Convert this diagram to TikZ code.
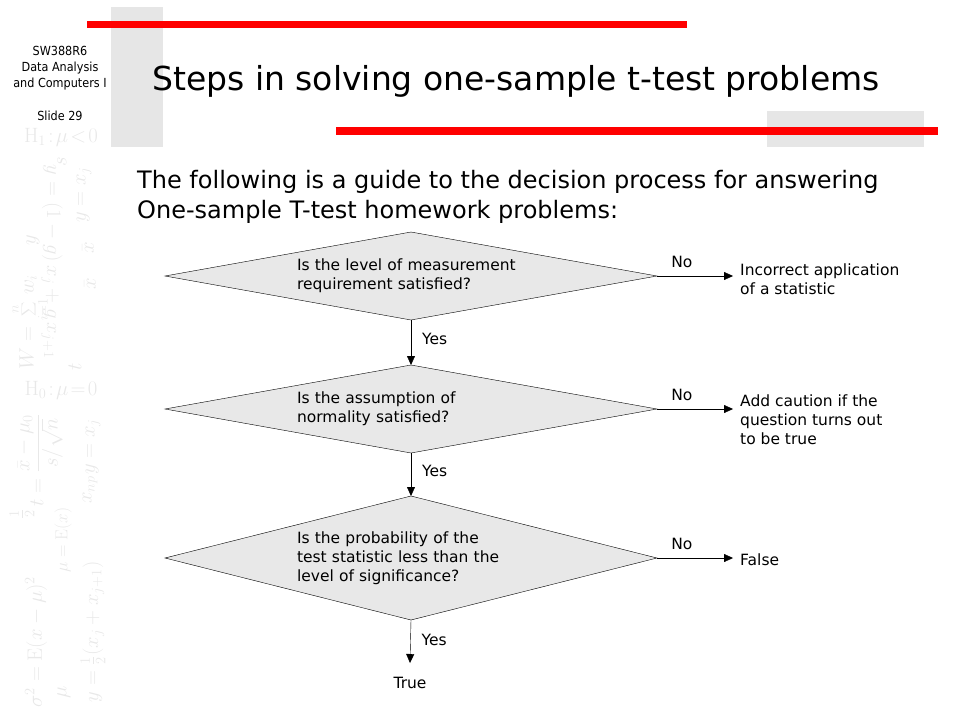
\documentclass[tikz,border=0pt]{standalone}
\usepackage[no-math]{fontspec}
\setmainfont{DejaVu Sans}
\newfontfamily\titlefont{DejaVu Sans Condensed}
\usetikzlibrary{shapes.geometric}
\usetikzlibrary{positioning}
\usetikzlibrary{arrows.meta}
\definecolor{barred}{RGB}{255,0,0}
\definecolor{panelgray}{RGB}{230,230,230}
\definecolor{boxgray}{RGB}{232,232,232}
\tikzset{x=1pt, y=-1pt,
decision/.style={ % Sets the properties for each question
diamond, draw, thin,
fill=boxgray,
aspect=4.5, inner sep=0pt, outer sep=0pt,
minimum width=492pt,
text width=228pt, align=left,
font=\fontsize{15.5}{19}\selectfont},
result/.style={ % Text at the end of a No arrow
anchor=west, inner sep=0pt, align=left,
font=\fontsize{15.5}{19}\selectfont},
answer/.style={inner sep=0pt, font=\fontsize{15.5}{17}\selectfont},
flow/.style={ % Sets the properties for each arrow
draw, thin,
-{Triangle[length=9pt,width=8pt]}},
noarrow/.style={flow, shorten >=7pt},
ghost/.style={text=black!9, inner sep=0pt, font=\fontsize{20}{20}\selectfont}}

\begin{document}
\begin{tikzpicture}
\useasboundingbox (0,0) rectangle (960,720);
% slide decoration
\fill[panelgray] (111,7) rectangle (163,147);
\fill[panelgray] (767,111) rectangle (924,147);
\fill[barred] (87,21) rectangle (687,28);
\fill[barred] (336,127) rectangle (938,135);
% faint formulas on the left
\node[ghost] (h1) at (61,137) {$\mathrm{H}_1\!:\!\mu\!<\!0$};
\node[ghost] (h0) at (61,390) {$\mathrm{H}_0\!:\!\mu\!=\!0$};
\node[ghost, rotate=-90] (interp) at (52,262) {$y=(1-g)\,x_j+g\,x_{j+1}$};
\node[ghost, rotate=90] (wsum) at (30,322) {$\displaystyle W=\sum_{i=1}^{n} w_i$};
\node[ghost, rotate=90] (yx) at (84,195) {$y=x_j$};
\node[ghost, rotate=90] (s) at (62,162) {$s$};
\node[ghost, rotate=90] (yy) at (33,240) {$y$};
\node[ghost, rotate=90] (xbar) at (88,248) {$\bar{x}$};
\node[ghost, rotate=90] (xbarb) at (90,284) {$\bar{x}$};
\node[ghost, rotate=90] (tt) at (75,367) {$t$};
\node[ghost, rotate=90] (tstat) at (40,460) {$\displaystyle t=\frac{\bar{x}-\mu_0}{s/\sqrt{n}}$};
\node[ghost, rotate=90] (yxb) at (93,447) {$y=x_j$};
\node[ghost, rotate=90] (xnp) at (90,490) {$x_{np}$};
\node[ghost, rotate=90] (half) at (22,514) {$\frac{1}{2}$};
\node[ghost, rotate=90, font=\fontsize{17}{17}\selectfont] (mean) at (63,540) {$\mu=\mathrm{E}(x)$};
\node[ghost, rotate=90] (var) at (36,642) {$\sigma^2=\mathrm{E}(x-\mu)^2$};
\node[ghost, rotate=90] (median) at (93,632) {$y=\frac{1}{2}(x_j+x_{j+1})$};
\node[ghost, rotate=90] (mu) at (64,692) {$\mu$};
% header
\node[anchor=north, inner sep=0pt, align=center,
  font=\titlefont\fontsize{12.5}{16}\selectfont] (course) at (60,46)
  {SW388R6\\Data Analysis\\and Computers I\\[17pt]Slide 29};
\node[anchor=base, inner sep=0pt, font=\fontsize{33}{33}\selectfont]
  (title) at (516,90) {Steps in solving one-sample t-test problems};
\node[anchor=north west, inner sep=0pt, align=left,
  font=\fontsize{24}{30}\selectfont] (intro) at (137,170)
  {The following is a guide to the decision process for answering\\
   One-sample T-test homework problems:};
% decisions
\node[decision, minimum height=88pt] (level) at (411,276)
  {Is the level of measurement\\requirement satisfied?};
\node[decision, minimum height=88pt] (normal) at (411,409)
  {Is the assumption of\\normality satisfied?};
\node[decision, minimum height=124pt] (prob) at (411,558)
  {Is the probability of the\\test statistic less than the\\level of significance?};
% outcomes
\node[result] (wrong) at (740,279) {Incorrect application\\of a statistic};
\node[result] (caution) at (740,420) {Add caution if the\\question turns out\\to be true};
\node[result] (false) at (740,560) {False};
\coordinate (stop) at (410,663);
\node[answer] (true) at (410,683) {True};
% arrows
\draw[flow] (level.south) -- node[answer, midway, right=11pt, yshift=4pt] (yes1) {Yes} (normal.north);
\draw[flow] (normal.south) -- node[answer, midway, right=11pt, yshift=4pt] (yes2) {Yes} (prob.north);
\draw[flow] (prob.south) -- node[answer, midway, right=11pt, yshift=2pt] (yes3) {Yes} (stop);
\draw[noarrow] (level.east) -- node[answer, pos=0.3, above=8pt] (no1) {No} (level.east -| wrong.west);
\draw[noarrow] (normal.east) -- node[answer, pos=0.3, above=8pt] (no2) {No} (normal.east -| caution.west);
\draw[noarrow] (prob.east) -- node[answer, pos=0.3, above=8pt] (no3) {No} (prob.east -| false.west);
\end{tikzpicture}
\end{document}
